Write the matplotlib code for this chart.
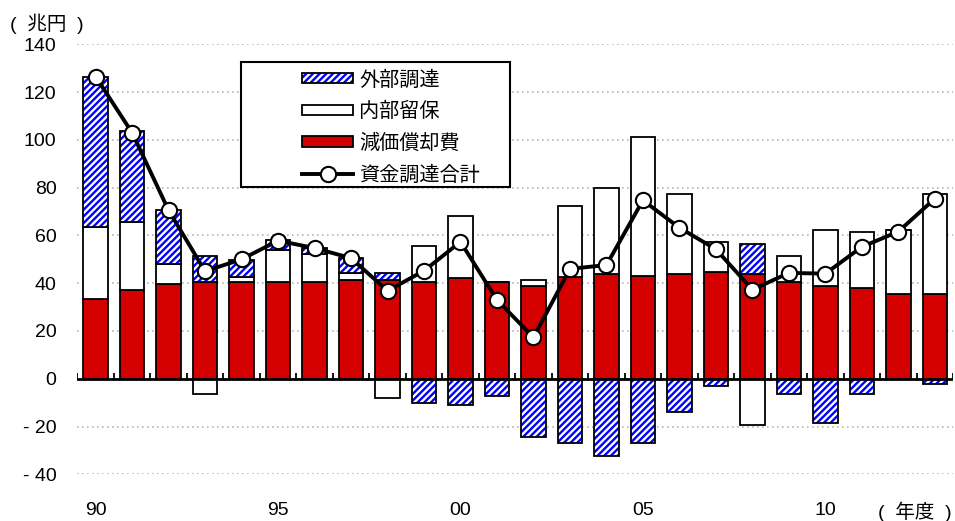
import numpy as np
import matplotlib
matplotlib.use("Agg")
import matplotlib.pyplot as plt
from matplotlib.patches import Patch, Rectangle
from matplotlib.lines import Line2D
from matplotlib.legend_handler import HandlerTuple

plt.rcParams['font.family'] = ['Liberation Sans', 'Noto Sans CJK JP', 'DejaVu Sans']
plt.rcParams['hatch.linewidth'] = 1.7

# Fiscal years 1990-2013 (trillion yen)
years = list(range(1990, 2014))
depreciation = [33.5, 37.0, 39.5, 40.5, 40.5, 40.5, 40.5, 41.4, 41.3, 40.5,
                42.2, 40.5, 38.9, 42.8, 43.8, 42.9, 43.7, 44.5, 43.7, 40.3,
                38.9, 37.8, 35.4, 35.4]
retained = [30.0, 28.5, 8.5, -6.4, 2.2, 13.4, 11.7, 2.8, -8.1, 15.2,
            25.9, 0.0, 2.5, 29.5, 36.1, 58.5, 33.8, 12.6, -19.4, 11.2,
            23.4, 23.8, 26.9, 42.1]
external = [63.0, 38.0, 22.5, 11.0, 7.0, 4.2, 2.5, 6.3, 3.1, -10.0,
            -10.9, -7.4, -24.3, -26.8, -32.4, -26.8, -14.0, -3.2, 12.7, -6.5,
            -18.4, -6.5, 0.0, -2.2]
total = [126.5, 103.0, 70.5, 45.0, 50.0, 57.8, 54.7, 50.5, 36.8, 45.2,
         57.3, 33.0, 17.3, 46.0, 47.6, 74.7, 63.2, 54.2, 37.3, 44.3,
         44.0, 55.2, 61.6, 75.4]

xtick_years = [1990, 1995, 2000, 2005, 2010]
xtick_labels = ["90", "95", "00", "05", "10"]
yticks = [-40, -20, 0, 20, 40, 60, 80, 100, 120, 140]
ytick_labels = ["- 40", "- 20", "0", "20", "40", "60", "80", "100", "120", "140"]

labels = ["外部調達", "内部留保", "減価償却費", "資金調達合計"]

RED = "#d40000"
BLUE = "#0000ff"
FS = 14

fig = plt.figure(figsize=(9.55, 5.21), dpi=100)
ax = fig.add_axes([0.081, 0.0896, 0.917, 0.8254])

x = np.arange(len(years))
w = 0.67

dep = np.array(depreciation)
ret = np.array(retained)
ext = np.array(external)

pos_base = np.zeros(len(x))
neg_base = np.zeros(len(x))


def stack(vals):
    global pos_base, neg_base
    bottom = np.where(vals >= 0, pos_base, neg_base)
    pos_base = pos_base + np.where(vals >= 0, vals, 0)
    neg_base = neg_base + np.where(vals < 0, vals, 0)
    return bottom


b_dep = stack(dep)
b_ret = stack(ret)
b_ext = stack(ext)

HATCH = "/////"

ax.bar(x, dep, w, bottom=b_dep, color=RED, edgecolor="black", linewidth=1.3, zorder=3)
ax.bar(x, ret, w, bottom=b_ret, color="white", edgecolor="black", linewidth=1.3, zorder=3)
ax.bar(x, ext, w, bottom=b_ext, color="white", edgecolor=BLUE, hatch=HATCH,
       linewidth=0, zorder=3)
ax.bar(x, ext, w, bottom=b_ext, facecolor="none", edgecolor="black",
       linewidth=1.3, zorder=3.5)

ax.plot(x, total, color="black", lw=2.8, marker="o", ms=11,
        mfc="white", mec="black", mew=1.5, zorder=5)

# zero line with small boundary ticks
ax.axhline(0, color="black", lw=2.0, zorder=4)
for b in np.arange(-0.5, len(x)):
    ax.plot([b, b], [0, 2.2], color="black", lw=1.3, zorder=4,
            solid_capstyle="butt")

ax.set_xlim(-0.5, len(x) - 0.5)
ax.set_ylim(-40, 140)
ax.set_yticks(yticks)
ax.set_yticklabels(ytick_labels, fontsize=FS)
ax.set_xticks([years.index(y) for y in xtick_years])
ax.set_xticklabels(xtick_labels, fontsize=FS)
ax.tick_params(axis="y", length=0, pad=15)
ax.tick_params(axis="x", length=0, pad=20)
ax.yaxis.grid(True, linestyle=(0, (1, 2)), color="#b8b8b8", lw=1.2, zorder=0)
ax.set_axisbelow(True)
for s in ax.spines.values():
    s.set_visible(False)

# legend
h_ext = (Patch(facecolor="white", edgecolor=BLUE, hatch=HATCH, lw=0),
         Patch(facecolor="none", edgecolor="black", lw=1.3))
h_ret = Patch(facecolor="white", edgecolor="black", lw=1.3)
h_dep = Patch(facecolor=RED, edgecolor="black", lw=1.3)
h_tot = Line2D([], [], color="black", lw=2.8, marker="o", ms=11,
               mfc="white", mec="black", mew=1.5)
leg = ax.legend([h_ext, h_ret, h_dep, h_tot], labels,
                handler_map={tuple: HandlerTuple(ndivide=1)},
                loc="upper left", bbox_to_anchor=(0.2565, 0.94),
                frameon=False, fontsize=14.5, handlelength=2.55,
                handleheight=0.42, handletextpad=0.3, labelspacing=0.62,
                borderpad=0, borderaxespad=0)
leg.set_zorder(7)
ax.add_patch(Rectangle((0.187, 0.668), 0.307, 0.291, transform=ax.transAxes,
                       facecolor="white", edgecolor="black", lw=1.5, zorder=6))

fig.text(0.010, 0.955, "(  兆円  )", fontsize=FS, ha="left", va="center")
fig.text(0.996, 0.018, "(  年度  )", fontsize=FS, ha="right", va="center")

fig.savefig("out.png", dpi=100)
